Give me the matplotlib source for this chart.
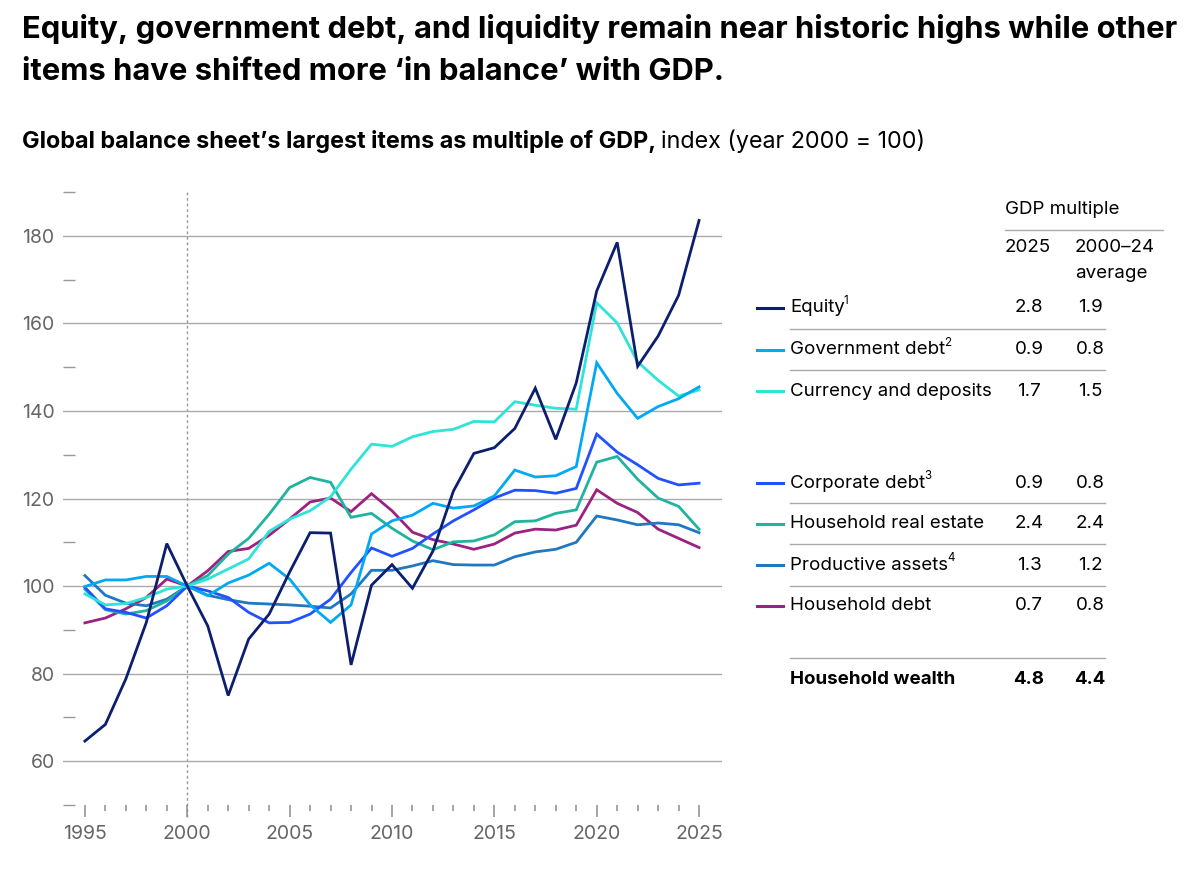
import numpy as np
import matplotlib
matplotlib.use("Agg")
import matplotlib.pyplot as plt

plt.rcParams['font.family'] = ['Inter', 'DejaVu Sans']

# Data (index, year 2000 = 100)
years = list(range(1995, 2026))
equity = [64.6, 68.4, 78.8, 91.7, 109.7, 100, 90.9, 75.0, 87.9, 93.6,
          103.2, 112.2, 112.1, 82.0, 100.2, 104.9, 99.5, 108.0, 121.7, 130.3,
          131.6, 136.0, 145.2, 133.5, 146.4, 167.4, 178.5, 150.2, 157.1, 166.4,
          183.5]
gov_debt = [99.9, 101.4, 101.4, 102.2, 102.2, 100, 97.8, 100.7, 102.5, 105.2,
            101.6, 95.7, 91.7, 95.7, 111.9, 114.9, 116.2, 118.9, 117.8, 118.3,
            120.6, 126.5, 124.9, 125.2, 127.3, 151.0, 144.0, 138.3, 141.0, 142.8,
            145.5]
currency = [98.2, 95.7, 96.0, 97.4, 99.3, 100, 101.6, 103.9, 106.2, 112.5,
            115.3, 117.2, 120.4, 126.7, 132.4, 131.9, 134.1, 135.3, 135.8, 137.6,
            137.5, 142.1, 141.3, 140.6, 140.4, 164.7, 160.1, 151.2, 147.0, 143.4,
            144.8]
corporate = [99.7, 94.8, 94.0, 92.7, 95.5, 100, 98.9, 97.4, 94.0, 91.6,
             91.7, 93.6, 97.0, 103.1, 108.7, 106.8, 108.6, 111.9, 114.9, 117.4,
             120.1, 121.9, 121.8, 121.2, 122.3, 134.7, 130.6, 127.7, 124.6, 123.1,
             123.5]
real_estate = [99.3, 94.6, 93.6, 94.4, 96.6, 100, 102.4, 107.3, 110.9, 116.4,
               122.5, 124.8, 123.7, 115.7, 116.6, 113.2, 110.3, 108.3, 110.1, 110.3,
               111.7, 114.7, 114.9, 116.6, 117.4, 128.3, 129.6, 124.4, 120.1, 118.2,
               113.0]
productive = [102.4, 97.9, 96.1, 95.5, 97.0, 100, 97.9, 96.9, 96.1, 95.9,
              95.7, 95.4, 95.0, 98.2, 103.6, 103.6, 104.6, 105.8, 104.9, 104.8,
              104.8, 106.7, 107.8, 108.4, 110.0, 116.0, 115.1, 114.0, 114.4, 114.0,
              112.2]
hh_debt = [91.6, 92.7, 94.8, 97.4, 101.6, 100, 103.5, 107.9, 108.6, 111.6,
           115.3, 119.2, 120.1, 117.0, 121.1, 117.2, 112.3, 110.6, 109.6, 108.4,
           109.6, 112.1, 113.0, 112.8, 113.9, 122.0, 118.9, 116.8, 113.0, 110.9,
           108.8]

labels = ["Equity", "Government debt", "Currency and deposits",
          "Corporate debt", "Household real estate", "Productive assets",
          "Household debt"]
notes = ["1", "2", "", "3", "", "4", ""]
series = [equity, gov_debt, currency, corporate, real_estate, productive, hh_debt]
colors = ["#0b1f6e", "#00a9f4", "#2ee3d8", "#2251ff", "#1fb3a0", "#1f78c0", "#9c2180"]
mult_2025 = ["2.8", "0.9", "1.7", "0.9", "2.4", "1.3", "0.7"]
mult_avg = ["1.9", "0.8", "1.5", "0.8", "2.4", "1.2", "0.8"]
wealth_2025 = "4.8"
wealth_avg = "4.4"

W, H = 1204, 874
fig = plt.figure(figsize=(W / 100, H / 100), dpi=100)


def fx(x):
    return x / W


def fy(y):
    return 1 - y / H


ax = fig.add_axes([fx(63), fy(805), fx(722) - fx(63), fy(192) - fy(805)])

for s, c in list(zip(series, colors))[::-1]:
    ax.plot(years, s, color=c, lw=2.0, solid_joinstyle='miter', zorder=3)

ax.set_xlim(1993.93, 2026.12)
ax.set_ylim(50, 190)

# y axis: gridlines on major, short dashes on minor
ax.set_yticks(range(60, 181, 20))
ax.set_yticks(range(50, 191, 20), minor=True)
ax.yaxis.grid(True, which='major', color='#aaaaaa', lw=1.0)
ax.tick_params(axis='y', which='major', length=0, pad=6, labelsize=14, labelcolor='#666666')
ax.tick_params(axis='y', which='minor', direction='in', length=8.5, width=1.0, color='#999999')

# x axis: ticks every year, longer every 5 years
ax.set_xticks(range(1995, 2026, 5))
ax.set_xticks(range(1995, 2026), minor=True)
ax.tick_params(axis='x', which='major', direction='out', length=8.5, width=1.1,
               color='#8c8c8c', pad=6, labelsize=14, labelcolor='#666666')
ax.tick_params(axis='x', which='minor', direction='out', length=4.3, width=1.1, color='#8c8c8c')
ax.tick_params(axis='x', which='both', bottom=True)

for sp in ax.spines.values():
    sp.set_visible(False)

ax.axvline(2000, ymin=-0.02, ymax=1, clip_on=False, color='#999999', lw=1,
           ls=(0, (2, 2)), zorder=1)

# Titles
fig.text(fx(22), fy(38), "Equity, government debt, and liquidity remain near historic highs while other",
         fontsize=22.3, fontweight='bold', va='baseline', ha='left')
fig.text(fx(22), fy(80), "items have shifted more \u2018in balance\u2019 with GDP.",
         fontsize=22.3, fontweight='bold', va='baseline', ha='left')
sub = fig.text(fx(22), fy(148), "Global balance sheet\u2019s largest items as multiple of GDP,",
               fontsize=16.8, fontweight='bold', va='baseline', ha='left')
fig.canvas.draw()
renderer = fig.canvas.get_renderer()
bb = sub.get_window_extent(renderer=renderer)
fig.text(bb.x1 / W + fx(5), fy(148), "index (year 2000 = 100)",
         fontsize=16.8, va='baseline', ha='left')

# Table / legend
tsize = 13.5
c1, c2 = 1029, 1090
fig.text(fx(1005), fy(209), "GDP multiple", fontsize=tsize, va='center', ha='left')
fig.add_artist(plt.Line2D([fx(1005), fx(1163)], [fy(230), fy(230)], color='#aaaaaa', lw=1))
fig.text(fx(1005), fy(248), "2025", fontsize=tsize, va='center', ha='left')
fig.text(fx(1075), fy(248), "2000\u201324", fontsize=tsize, va='center', ha='left')
fig.text(fx(1075), fy(274), "average", fontsize=tsize, va='center', ha='left')

row_y = [308, 350, 391, 483, 524, 565, 606]
for lab, note, c, v1, v2, y in zip(labels, notes, colors, mult_2025, mult_avg, row_y):
    fig.add_artist(plt.Line2D([fx(757), fx(783)], [fy(y), fy(y)], color=c, lw=2.2))
    t = fig.text(fx(790), fy(y), lab, fontsize=tsize, va='center', ha='left')
    if note:
        tb = t.get_window_extent(renderer=renderer)
        fig.text(tb.x1 / W - fx(1), fy(y - 7), note, fontsize=tsize * 0.62,
                 va='center', ha='left')
    fig.text(fx(c1), fy(y), v1, fontsize=tsize, va='center', ha='center')
    fig.text(fx(c2), fy(y), v2, fontsize=tsize, va='center', ha='center')

for y in [329, 370, 503, 544, 586, 658]:
    fig.add_artist(plt.Line2D([fx(790), fx(1105)], [fy(y), fy(y)], color='#aaaaaa', lw=1))

fig.text(fx(790), fy(679), "Household wealth", fontsize=tsize, fontweight='bold', va='center', ha='left')
fig.text(fx(c1), fy(679), wealth_2025, fontsize=tsize, fontweight='bold', va='center', ha='center')
fig.text(fx(c2), fy(679), wealth_avg, fontsize=tsize, fontweight='bold', va='center', ha='center')

fig.savefig("out.png", dpi=100)
